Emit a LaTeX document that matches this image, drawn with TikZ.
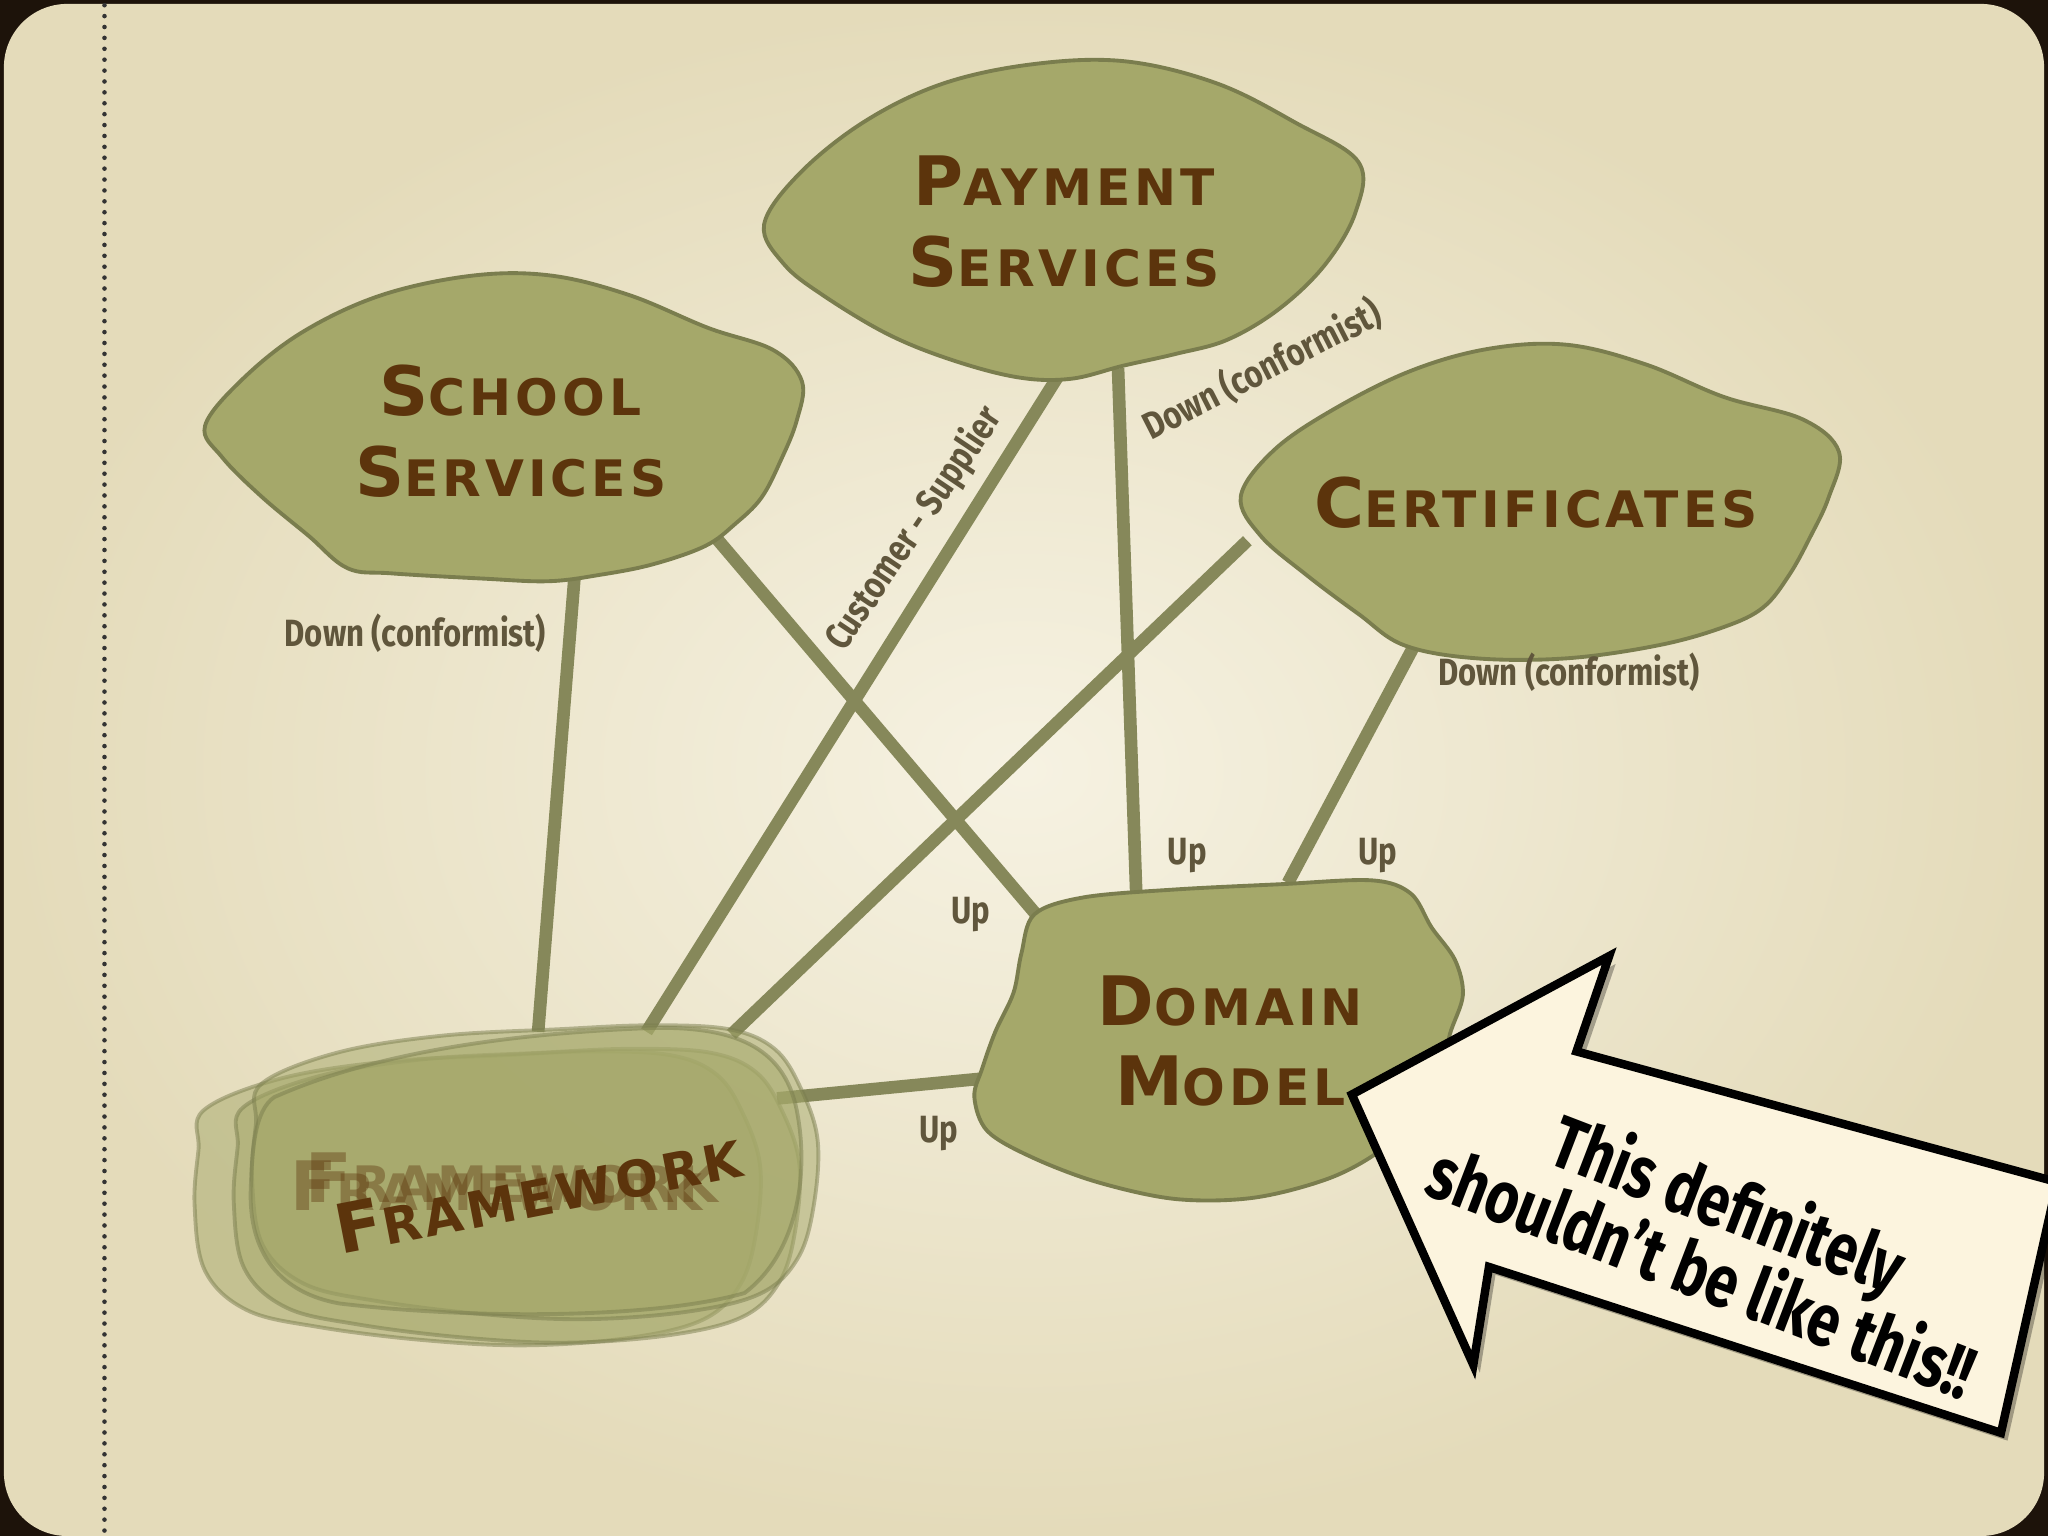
\documentclass[tikz,border=0pt]{standalone}
\usepackage{fontspec}
\newfontfamily\titlefont[LetterSpace=8]{DejaVu Sans}
\newfontfamily\handfont[FakeStretch=0.82]{Fira Sans}
\newfontfamily\comicfont[FakeStretch=0.78]{Fira Sans}
\newcommand\Bg[1]{{\fontsize{19.4pt}{23pt}\selectfont #1}}
\definecolor{bgin}{RGB}{246,242,226}
\definecolor{bgout}{RGB}{228,219,186}
\definecolor{blobfill}{RGB}{165,168,106}
\definecolor{blobline}{RGB}{122,125,78}
\definecolor{conncol}{RGB}{134,136,90}
\definecolor{titlecol}{RGB}{92,52,12}
\definecolor{labcol}{RGB}{96,86,60}
\definecolor{cream}{RGB}{252,244,222}
\tikzset{
  blob/.style={fill=blobfill, draw=blobline, line width=1.1pt},
  ghostblob/.style={fill=blobfill, draw=blobline, line width=1.1pt, fill opacity=0.5, draw opacity=0.5},
  conn/.style={draw=conncol, line width=3.6pt},
  title/.style={font=\titlefont\bfseries\fontsize{14.3pt}{23pt}\selectfont, text=titlecol, align=center, inner sep=0pt},
  lab/.style={font=\handfont\bfseries\fontsize{10.8pt}{12pt}\selectfont, text=labcol, inner sep=0pt},
  callout/.style={fill=cream, draw=black, line width=2.4pt, line join=miter},
}
\begin{document}
\begin{tikzpicture}[x=0.01306cm,y=-0.01306cm]
\useasboundingbox (0,0) rectangle (1568,1176);
% frame and slide
\fill[black!85!brown] (0,0) rectangle (1568,1176);
\shade[inner color=bgin, outer color=bgout, rounded corners=18pt] (3,3) rectangle (1565,1176);
\draw[black!80, line width=1.3pt, dash pattern=on 0pt off 3.1pt, line cap=round] (80,4) -- (80,1176);

% connector end points
\coordinate (s1) at (440,440);  \coordinate (f1) at (412,790);
\coordinate (s2) at (545,408);  \coordinate (d1) at (800,708);
\coordinate (p1) at (812,285);  \coordinate (f2) at (495,790);
\coordinate (p2) at (856,282);  \coordinate (d2) at (870,686);
\coordinate (c1) at (955,414);  \coordinate (f3) at (560,792);
\coordinate (c2) at (1084,492); \coordinate (d3) at (986,676);
\coordinate (f4) at (595,841);  \coordinate (d4) at (750,826);

\draw[conn] (s1) -- (f1);
\draw[conn] (s2) -- (d1);
\draw[conn] (p1) -- (f2);
\draw[conn] (p2) -- (d2);
\draw[conn] (c1) -- (f3);
\draw[conn] (c2) -- (d3);
\draw[conn] (f4) -- (d4);

% Payment Services
\draw[blob] plot[smooth cycle, tension=0.6] coordinates {(585,172) (612,133) (662,93) (722,64) (792,49) (862,47) (932,64) (992,94) (1040,124) (1038,162) (1015,202) (980,236) (940,260) (900,271) (860,280) (820,290) (780,289) (730,276) (680,256) (630,226) (600,202)};
\node[title] (pay) at (815,170) {\Bg{P}AYMENT\\\Bg{S}ERVICES};

% School Services
\draw[blob] plot[smooth cycle, tension=0.6] coordinates {(157,326) (186,290) (232,254) (292,226) (362,211) (422,211) (482,226) (542,251) (592,268) (614,292) (610,322) (598,352) (583,381) (563,401) (540,418) (500,432) (460,440) (420,445) (370,443) (300,439) (266,435) (236,410) (200,380) (170,350)};
\node[title] (sch) at (391,330) {\Bg{S}CHOOL\\\Bg{S}ERVICES};

% Certificates
\draw[blob] plot[smooth cycle, tension=0.6] coordinates {(950,380) (975,345) (1020,314) (1080,284) (1140,267) (1200,264) (1260,279) (1320,304) (1380,321) (1408,346) (1400,381) (1386,411) (1370,440) (1350,465) (1320,480) (1270,494) (1200,504) (1130,504) (1075,494) (1040,470) (1000,440) (965,410)};
\node[title] (cert) at (1176,385) {\Bg{C}ERTIFICATES};

% Domain Model
\draw[blob] plot[smooth cycle, tension=0.55] coordinates {(792,700) (830,687) (900,681) (980,677) (1050,674) (1080,684) (1096,710) (1114,735) (1120,762) (1110,792) (1104,822) (1084,852) (1058,880) (1018,902) (960,917) (900,918) (840,905) (790,886) (756,866) (746,840) (752,818) (762,790) (776,760) (782,730)};
\node[title] (dom) at (942,797) {\Bg{D}OMAIN\\\Bg{M}ODEL};

% Framework (several translucent copies)
\def\fwshape{plot[smooth cycle, tension=0.6] coordinates {(192,832) (250,808) (330,795) (420,790) (490,787) (550,790) (585,805) (605,835) (618,875) (615,925) (603,965) (575,992) (520,1006) (440,1012) (360,1008) (280,998) (225,985) (193,955) (185,905) (188,862)}}
\begin{scope}[shift={(-36,18)}]
  \draw[ghostblob] \fwshape;
\end{scope}
\begin{scope}[shift={(-6,16)}]
  \draw[ghostblob] \fwshape;
\end{scope}
\begin{scope}[shift={(8,-2)}]
  \draw[ghostblob] \fwshape;
\end{scope}
\draw[ghostblob] (210,840) .. controls (300,800) and (420,790) .. (500,787) .. controls (560,786) and (600,800) .. (610,850) .. controls (620,900) and (610,960) .. (570,990) .. controls (500,1010) and (360,1010) .. (260,998) .. controls (215,990) and (190,960) .. (192,910) .. controls (193,880) and (195,850) .. (210,840) -- cycle;
\node[title, text opacity=0.4] (fwg1) at (380,908) {\Bg{F}RAMEWORK};
\node[title, text opacity=0.4] (fwg2) at (392,902) {\Bg{F}RAMEWORK};
\node[title, rotate=11] (fw) at (412,912) {\Bg{F}RAMEWORK};

% labels
\node[lab] (l1) at (318,485) {Down (conformist)};
\node[lab, rotate=56] (l2) at (700,405) {Customer - Supplier};
\node[lab, rotate=27] (l3) at (966,283) {Down (conformist)};
\node[lab] (l4) at (1201,515) {Down (conformist)};
\node[lab] (u1) at (743,700) {Up};
\node[lab] (u2) at (909,655) {Up};
\node[lab] (u3) at (1055,655) {Up};
\node[lab] (u4) at (719,868) {Up};

% callout arrow
\def\callshape{(1035,838) -- (1232,732) -- (1207,805) -- (1575,905) -- (1532,1097) -- (1140,970) -- (1128,1045) -- cycle}
\fill[black, opacity=0.3] [shift={(5,6)}] \callshape;
\draw[callout] \callshape;
\node[font=\comicfont\bfseries\fontsize{21pt}{21pt}\selectfont, align=center, rotate=-21, inner sep=0pt] (msg) at (1314,946) {This definitely\\[-2pt]shouldn’t be like this!!};
\end{tikzpicture}
\end{document}
